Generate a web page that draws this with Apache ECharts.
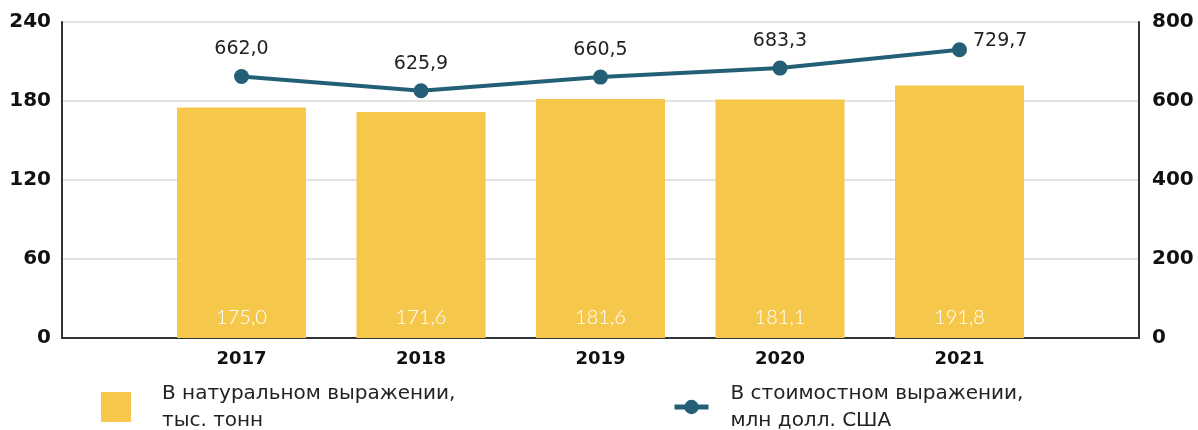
<!DOCTYPE html>
<html>
<head>
<meta charset="utf-8">
<script src="https://cdn.jsdelivr.net/npm/echarts@6/dist/echarts.min.js"></script>
<style>
  html, body { margin: 0; padding: 0; background: #fff; }
  #chart { width: 1198px; height: 430px; }
</style>
</head>
<body>
<div id="chart"></div>
<script>
// данные
const years = ['2017', '2018', '2019', '2020', '2021'];
const volume = [175.0, 171.6, 181.6, 181.1, 191.8];   // тыс. тонн
const value = [662.0, 625.9, 660.5, 683.3, 729.7];    // млн долл. США
const leftTicks = [0, 60, 120, 180, 240];
const rightTicks = [0, 200, 400, 600, 800];

const barName = 'В натуральном выражении,\nтыс. тонн';
const lineName = 'В стоимостном выражении,\nмлн долл. США';

const fmt = v => v.toFixed(1).replace('.', ',');
const font = 'DejaVu Sans';

// пустые категории по краям дают отступ от осей
const cats = [''].concat(years, ['']);
const barData = ['-'].concat(volume, ['-']);
const lineData = ['-'].concat(value.map((v, i) => {
  if (i === value.length - 1) {
    return { value: v, label: { position: 'right', distance: 6, offset: [0, -9] } };
  }
  return v;
}), ['-']);

const chart = echarts.init(document.getElementById('chart'));
chart.setOption({
  backgroundColor: '#fff',
  animation: false,
  textStyle: { fontFamily: font },
  grid: { left: 62, right: 59, top: 22, bottom: 92 },
  legend: [
    {
      data: [barName],
      left: 101, top: 380, padding: 0,
      itemWidth: 30, itemHeight: 30,
      icon: 'rect',
      textStyle: { fontFamily: font, fontSize: 20, color: '#222', lineHeight: 27, padding: [0, 0, 0, 26] }
    },
    {
      data: [lineName],
      left: 672, top: 380, padding: 0,
      itemWidth: 34, itemHeight: 18,
      lineStyle: { width: 5 },
      textStyle: { fontFamily: font, fontSize: 20, color: '#222', lineHeight: 27, padding: [0, 0, 0, 17] }
    }
  ],
  xAxis: {
    type: 'category',
    data: cats,
    boundaryGap: false,
    axisLine: { lineStyle: { color: '#333', width: 2 } },
    axisTick: { show: false },
    axisLabel: { margin: 12, fontSize: 18, fontWeight: 'bold', color: '#111', fontFamily: font },
    splitLine: { show: false }
  },
  yAxis: [
    {
      type: 'value',
      min: leftTicks[0], max: leftTicks[leftTicks.length - 1], interval: 60,
      axisLine: { show: true, lineStyle: { color: '#333', width: 2 } },
      axisTick: { show: false },
      axisLabel: { margin: 11, fontSize: 20, fontWeight: 'bold', color: '#111', fontFamily: font },
      splitLine: { lineStyle: { color: '#d9d9d9', width: 1.5 } }
    },
    {
      type: 'value',
      min: rightTicks[0], max: rightTicks[rightTicks.length - 1], interval: 200,
      position: 'right',
      axisLine: { show: true, lineStyle: { color: '#333', width: 2 } },
      axisTick: { show: false },
      axisLabel: { margin: 13, fontSize: 20, fontWeight: 'bold', color: '#111', fontFamily: font },
      splitLine: { show: false }
    }
  ],
  series: [
    {
      name: barName,
      type: 'bar',
      yAxisIndex: 0,
      data: barData,
      barWidth: 129,
      itemStyle: { color: '#f5c84c' },
      label: {
        show: true,
        position: 'insideBottom',
        distance: 10,
        color: '#fff',
        fontSize: 20,
        fontWeight: 300,
        fontFamily: 'Lato',
        formatter: p => fmt(p.value)
      }
    },
    {
      name: lineName,
      type: 'line',
      yAxisIndex: 1,
      data: lineData,
      symbol: 'circle',
      symbolSize: 15,
      lineStyle: { color: '#245f78', width: 4 },
      itemStyle: { color: '#245f78' },
      label: {
        show: true,
        position: 'top',
        distance: 10,
        color: '#222',
        fontSize: 19,
        fontFamily: font,
        formatter: p => fmt(p.value)
      }
    }
  ]
});
</script>
</body>
</html>
